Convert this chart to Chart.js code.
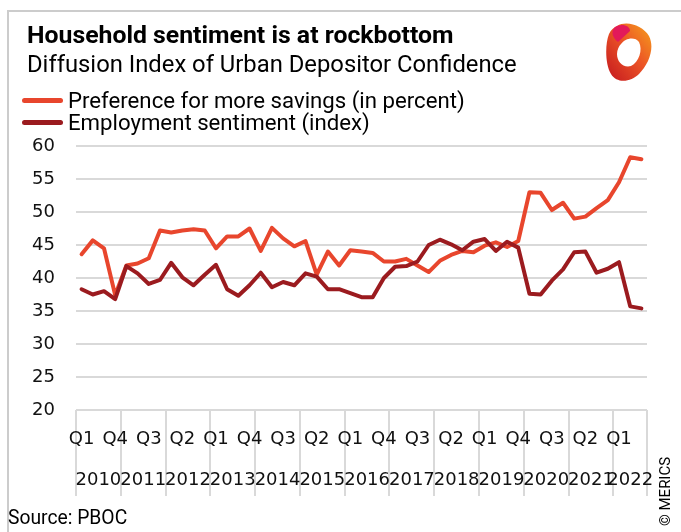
<!DOCTYPE html>
<html>
<head>
<meta charset="utf-8">
<script src="https://cdn.jsdelivr.net/npm/chart.js@4.4.0/dist/chart.umd.min.js"></script>
<style>
  body { margin: 0; background: #fff; }
  #wrap { position: relative; width: 681px; height: 532px; overflow: hidden; font-family: Roboto, sans-serif; color: #000; }
  #frame { position: absolute; left: 7px; top: 10px; width: 700px; height: 600px; border: 2px solid #cccccc; box-sizing: border-box; }
  #title { position: absolute; left: 27px; top: 21px; font-size: 24.8px; line-height: 28px; font-weight: bold; white-space: nowrap; }
  #subtitle { position: absolute; left: 27px; top: 50px; font-size: 23.8px; line-height: 28px; white-space: nowrap; }
  #legend { position: absolute; left: 22px; top: 89px; font-size: 22.2px; }
  .item { display: flex; align-items: center; height: 22px; white-space: nowrap; }
  .swatch { width: 41px; height: 5px; border-radius: 3px; margin-right: 5px; }
  #source { position: absolute; left: 8px; top: 507px; font-size: 19.3px; line-height: 22px; }
  #copy { position: absolute; left: 657px; top: 526px; transform-origin: 0 0; transform: rotate(-90deg); font-size: 15px; line-height: 16px; white-space: nowrap; }
  #logo { position: absolute; left: 603px; top: 22px; }
  #chartBox { position: absolute; left: 0; top: 0; width: 681px; height: 532px; }
</style>
</head>
<body>
<div id="wrap">
  <div id="frame"></div>
  <div id="chartBox"><canvas id="sentChart"></canvas></div>
  <div id="title">Household sentiment is at rockbottom</div>
  <div id="subtitle">Diffusion Index of Urban Depositor Confidence</div>
  <div id="legend"></div>
  <div id="source">Source: PBOC</div>
  <div id="copy">© MERICS</div>
  <svg id="logo" width="50" height="62" viewBox="0 0 50 62">
    <defs>
      <linearGradient id="lg" x1="1" y1="0" x2="0" y2="1">
        <stop offset="0" stop-color="#f6a11c"/>
        <stop offset="0.45" stop-color="#ec5526"/>
        <stop offset="1" stop-color="#c3161f"/>
      </linearGradient>
    </defs>
    <path d="M14 4 C24 -2 40 4 46 14 C52 26 46 42 36 52 C28 60 14 62 8 52 C2 42 2 22 6 12 C8 8 10 6 14 4 Z" fill="url(#lg)"/>
    <path d="M12 5 C18 1 27 3 27 9 L15 20 C10 16 7 10 12 5 Z" fill="#e3195a"/>
    <path d="M18 22 C22 16 32 14 36 20 C40 28 36 40 28 44 C20 46 14 40 14 32 C14 28 16 24 18 22 Z" fill="#fff"/>
  </svg>
</div>

<script>
// quarterly categories, Q1 2010 .. Q3 2022
const quarterLabels = [
  'Q1 2010', 'Q2 2010', 'Q3 2010', 'Q4 2010',
  'Q1 2011', 'Q2 2011', 'Q3 2011', 'Q4 2011',
  'Q1 2012', 'Q2 2012', 'Q3 2012', 'Q4 2012',
  'Q1 2013', 'Q2 2013', 'Q3 2013', 'Q4 2013',
  'Q1 2014', 'Q2 2014', 'Q3 2014', 'Q4 2014',
  'Q1 2015', 'Q2 2015', 'Q3 2015', 'Q4 2015',
  'Q1 2016', 'Q2 2016', 'Q3 2016', 'Q4 2016',
  'Q1 2017', 'Q2 2017', 'Q3 2017', 'Q4 2017',
  'Q1 2018', 'Q2 2018', 'Q3 2018', 'Q4 2018',
  'Q1 2019', 'Q2 2019', 'Q3 2019', 'Q4 2019',
  'Q1 2020', 'Q2 2020', 'Q3 2020', 'Q4 2020',
  'Q1 2021', 'Q2 2021', 'Q3 2021', 'Q4 2021',
  'Q1 2022', 'Q2 2022', 'Q3 2022'
];

const savingsPref = [
  43.6, 45.7, 44.5, 37.4, 41.9, 42.2, 43.0, 47.2, 46.9, 47.2,
  47.4, 47.2, 44.5, 46.3, 46.3, 47.5, 44.1, 47.6, 46.0, 44.8,
  45.6, 40.5, 44.0, 41.9, 44.2, 44.0, 43.8, 42.5, 42.5, 42.9,
  41.9, 40.9, 42.6, 43.5, 44.1, 43.9, 44.9, 45.4, 44.7, 45.6,
  53.0, 52.9, 50.3, 51.4, 49.0, 49.3, 50.6, 51.8, 54.5, 58.3, 58.0
];

const employment = [
  38.3, 37.5, 38.0, 36.8, 41.8, 40.7, 39.1, 39.7, 42.3, 40.1,
  38.9, 40.5, 42.0, 38.3, 37.3, 38.9, 40.8, 38.6, 39.4, 38.9,
  40.7, 40.2, 38.3, 38.3, 37.7, 37.1, 37.1, 40.0, 41.7, 41.8,
  42.5, 45.0, 45.8, 45.1, 44.2, 45.5, 45.9, 44.1, 45.5, 44.6,
  37.6, 37.5, 39.6, 41.3, 43.9, 44.0, 40.8, 41.4, 42.4, 35.7, 35.4
];

const seriesNames = ['Preference for more savings (in percent)', 'Employment sentiment (index)'];
const seriesColors = ['#e8462d', '#9b1b1f'];
const yTicks = [20, 25, 30, 35, 40, 45, 50, 55, 60];

// year groups for the second label row
const yearLabels = [...new Set(quarterLabels.map(q => q.split(' ')[1]))];
const yearIdx = yearLabels.map(y => quarterLabels.map((q, i) => q.endsWith(y) ? i : -1).filter(i => i >= 0));
const yearCenters = yearIdx.map(a => (a[0] + a[a.length - 1]) / 2);
const yearEdges = yearIdx.map(a => a[0] - 0.5).concat(quarterLabels.length - 0.5);
const last = quarterLabels.length - 0.5;

Chart.defaults.font.family = "'DejaVu Sans', sans-serif";
Chart.defaults.font.size = 18;
Chart.defaults.color = '#111';

const chart = new Chart(document.getElementById('sentChart'), {
  type: 'line',
  data: {
    labels: quarterLabels,
    datasets: [
      { label: seriesNames[0], data: savingsPref, borderColor: seriesColors[0], order: 1 },
      { label: seriesNames[1], data: employment, borderColor: seriesColors[1], order: 0 }
    ].map(d => Object.assign(d, {
      xAxisID: 'x', yAxisID: 'y', borderWidth: 4, pointRadius: 0, tension: 0,
      fill: false, borderCapStyle: 'round', borderJoinStyle: 'round'
    }))
  },
  options: {
    responsive: true,
    maintainAspectRatio: false,
    animation: false,
    layout: { padding: { top: 146, right: 34, bottom: 38, left: 0 } },
    plugins: { legend: { display: false }, tooltip: { enabled: false } },
    scales: {
      sep: {
        type: 'linear', position: 'bottom', weight: 0, min: -0.5, max: last,
        afterBuildTicks: s => { s.ticks = yearEdges.map(v => ({ value: v })); },
        ticks: { display: false },
        border: { display: false },
        grid: { drawOnChartArea: false, drawTicks: true, tickLength: 86, color: '#d9d9d9', lineWidth: 2 },
        afterFit: s => { s.height = 0; }
      },
      x: {
        type: 'category', position: 'bottom', weight: 1, offset: true,
        grid: { display: false }, border: { display: false },
        ticks: {
          autoSkip: false, maxRotation: 0, padding: 11,
          callback: (v, i) => i % 3 === 0 ? quarterLabels[i].split(' ')[0] : ''
        },
        afterFit: s => { s.height = 40; }
      },
      years: {
        type: 'linear', position: 'bottom', weight: 2, min: -0.5, max: last,
        afterBuildTicks: s => { s.ticks = yearCenters.map(v => ({ value: v })); },
        grid: { display: false }, border: { display: false },
        ticks: { autoSkip: false, maxRotation: 0, padding: 12, callback: (v, i) => yearLabels[i] },
        afterFit: s => { s.height = 44; }
      },
      y: {
        min: 20, max: 60,
        afterBuildTicks: s => { s.ticks = yTicks.map(v => ({ value: v })); },
        ticks: { padding: 21 },
        grid: { color: '#d9d9d9', lineWidth: 2, drawTicks: false },
        border: { display: false },
        afterFit: s => { s.width = 76; }
      }
    }
  }
});

// html legend from the datasets
document.getElementById('legend').innerHTML = chart.data.datasets.map(d =>
  `<div class="item"><span class="swatch" style="background:${d.borderColor}"></span>${d.label}</div>`
).join('');
</script>
</body>
</html>
